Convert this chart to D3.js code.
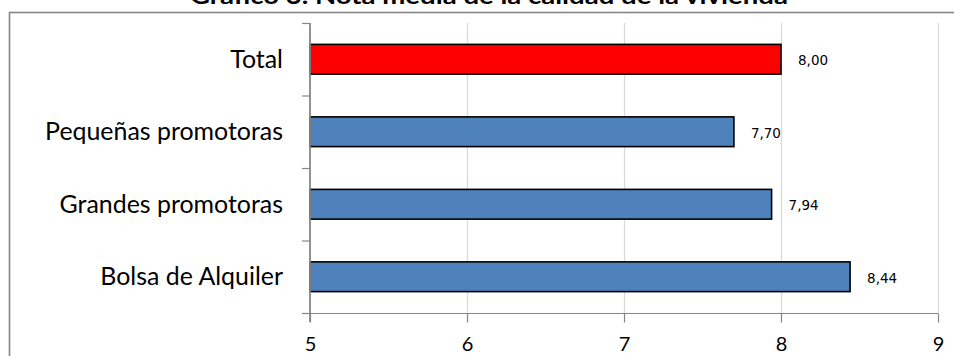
<!DOCTYPE html>
<html>
<head>
<meta charset="utf-8">
<script src="https://cdn.jsdelivr.net/npm/d3@7"></script>
<style>
  html, body { margin: 0; padding: 0; background: #fff; }
  svg { display: block; }
</style>
</head>
<body>
<svg id="chart" width="954" height="356"></svg>
<script>
// Chart data
const title = "Gráfico 3. Nota media de la calidad de la vivienda";
const categories = ["Total", "Pequeñas promotoras", "Grandes promotoras", "Bolsa de Alquiler"];
const values = [8.00, 7.70, 7.94, 8.44];
const barColors = ["#FF0000", "#4F81BD", "#4F81BD", "#4F81BD"];
const xTicks = [5, 6, 7, 8, 9];

const svg = d3.select("#chart");
const W = 954, H = 356;

// Spanish number format (decimal comma)
const es = d3.formatLocale({ decimal: ",", thousands: ".", grouping: [3], currency: ["", " €"] });
const fmt = es.format(".2f");

const plot = { left: 310, right: 938, top: 23, bottom: 313 };

const x = d3.scaleLinear().domain([5, 9]).range([plot.left, plot.right]);
const y = d3.scaleBand().domain(categories).range([plot.top, plot.bottom])
  .paddingInner(0.59).paddingOuter(0.295);

// Outer chart frame
svg.append("rect")
  .attr("x", 9.5).attr("y", 12.5)
  .attr("width", 970).attr("height", 400)
  .attr("fill", "none").attr("stroke", "#868686").attr("stroke-width", 1.6);

// Title
svg.append("text")
  .attr("x", 489).attr("y", 4)
  .attr("text-anchor", "middle")
  .attr("font-family", "Lato, 'Liberation Sans', sans-serif")
  .attr("font-weight", "bold")
  .attr("font-size", 22)
  .attr("textLength", 598)
  .attr("lengthAdjust", "spacingAndGlyphs")
  .text(title);

// Vertical gridlines
svg.append("g").selectAll("line")
  .data(xTicks.filter(t => t !== 5))
  .join("line")
  .attr("x1", d => x(d) + 0.5).attr("x2", d => x(d) + 0.5)
  .attr("y1", plot.top).attr("y2", plot.bottom)
  .attr("stroke", "#d9d9d9").attr("stroke-width", 1.2);

// Bars
svg.append("g").selectAll("rect")
  .data(categories)
  .join("rect")
  .attr("x", x(5))
  .attr("y", d => y(d))
  .attr("width", (d, i) => x(values[i]) - x(5))
  .attr("height", y.bandwidth())
  .attr("fill", (d, i) => barColors[i])
  .attr("stroke", "#000").attr("stroke-width", 1.6);

// X axis
const xAxis = svg.append("g")
  .attr("transform", `translate(0,${plot.bottom + 0.5})`)
  .call(d3.axisBottom(x).tickValues(xTicks).tickSize(9).tickPadding(14).tickFormat(d3.format("d")));
xAxis.select(".domain").remove();
xAxis.append("line")
  .attr("x1", plot.left - 8).attr("x2", plot.right)
  .attr("y1", 0).attr("y2", 0)
  .attr("stroke", "#868686").attr("stroke-width", 1.2);
xAxis.selectAll(".tick line").attr("stroke", "#868686").attr("stroke-width", 1.2);
xAxis.selectAll(".tick text")
  .attr("fill", "#000")
  .attr("font-family", "Lato, 'Liberation Sans', sans-serif")
  .attr("font-size", 20);

// Y axis line with ticks at category boundaries
const yAxis = svg.append("g");
yAxis.append("line")
  .attr("x1", plot.left).attr("x2", plot.left)
  .attr("y1", plot.top).attr("y2", plot.bottom + 9)
  .attr("stroke", "#868686").attr("stroke-width", 1.8);
const boundaries = d3.range(categories.length + 1).map(i => y.range()[0] + i * y.step());
yAxis.selectAll("line.tk")
  .data(boundaries)
  .join("line")
  .attr("class", "tk")
  .attr("x1", plot.left - 8).attr("x2", plot.left)
  .attr("y1", d => d + 0.5).attr("y2", d => d + 0.5)
  .attr("stroke", "#868686").attr("stroke-width", 1.2);

// Category labels
const catLabels = yAxis.selectAll("text.cat")
  .data(categories)
  .join("text")
  .attr("class", "cat")
  .attr("x", 283)
  .attr("y", d => y(d) + y.bandwidth() / 2)
  .attr("dy", "0.35em")
  .attr("text-anchor", "end")
  .attr("font-family", "Lato, 'Liberation Sans', sans-serif")
  .attr("font-size", 24)
  .attr("fill", "#000")
  .text(d => d);
// Size the labels so the longest one spans its allotted width
const longest = d3.max(catLabels.nodes(), n => n.getComputedTextLength());
catLabels.attr("font-size", 24 * 238 / longest);

// Value labels
svg.append("g").selectAll("text")
  .data(categories)
  .join("text")
  .attr("x", (d, i) => x(values[i]) + 17)
  .attr("y", d => y(d) + y.bandwidth() / 2 + 1.5)
  .attr("dy", "0.35em")
  .attr("font-family", "'DejaVu Sans', sans-serif")
  .attr("font-size", 13.5)
  .attr("fill", "#000")
  .text((d, i) => fmt(values[i]));
</script>
</body>
</html>
